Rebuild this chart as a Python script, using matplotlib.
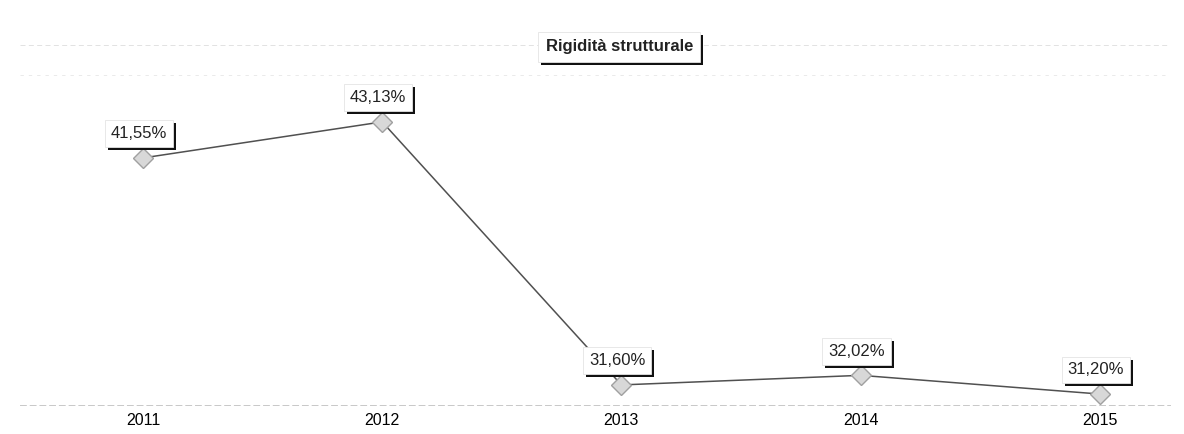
import matplotlib.pyplot as plt
import matplotlib.patheffects as pe

plt.rcParams['font.family'] = ['Liberation Sans', 'DejaVu Sans']

anni = [2011, 2012, 2013, 2014, 2015]
rigidita = [41.55, 43.13, 31.60, 32.02, 31.20]
etichette = ['41,55%', '43,13%', '31,60%', '32,02%', '31,20%']

fig = plt.figure(figsize=(11.84, 4.34), dpi=100)
ax = fig.add_axes([20 / 1184, 1 - 405 / 434, 1150 / 1184, 360 / 434])

ax.plot(anni, rigidita, color='#505050', lw=1.1,
        marker='D', markersize=10, markerfacecolor='#d8d8d8',
        markeredgecolor='#a0a0a0', markeredgewidth=1)

ombra = [pe.SimplePatchShadow(offset=(2.2, -2.2), shadow_rgbFace='#111111', alpha=1), pe.Normal()]

for x, y, s in zip(anni, rigidita, etichette):
    t = ax.annotate(s, (x, y), xytext=(-3, 12), textcoords='offset points',
                    ha='center', va='bottom', fontsize=12, color='#222222',
                    bbox=dict(boxstyle='square,pad=0.35', fc='white', ec='#e4e4e4', lw=0.6))
    t.get_bbox_patch().set_path_effects(ombra)

tt = fig.text(0.523, 1 - 47 / 434, 'Rigidità strutturale', ha='center', va='center',
              fontsize=12, fontweight='bold', color='#222222',
              bbox=dict(boxstyle='square,pad=0.45', fc='white', ec='#e4e4e4', lw=0.6))
tt.get_bbox_patch().set_path_effects(ombra)

ax.set_xlim(2010.486, 2015.293)
ax.set_ylim(30.72, 46.5)
ax.set_xticks(anni)
ax.set_xticklabels([str(a) for a in anni], fontsize=11.5)
ax.tick_params(length=0, pad=6)
ax.set_yticks([])
for sp in ['top', 'right', 'left']:
    ax.spines[sp].set_visible(False)
ax.spines['bottom'].set_color('#c8c8c8')
ax.spines['bottom'].set_linestyle((0, (6, 4)))
ax.spines['bottom'].set_linewidth(0.7)
ax.axhline(46.5, color='#dddddd', lw=0.6, ls=(0, (6, 4)), clip_on=False)
ax.axhline(45.2, color='#e6e6e6', lw=0.6, ls=(0, (4, 6)))

fig.savefig('out.png', dpi=100)
